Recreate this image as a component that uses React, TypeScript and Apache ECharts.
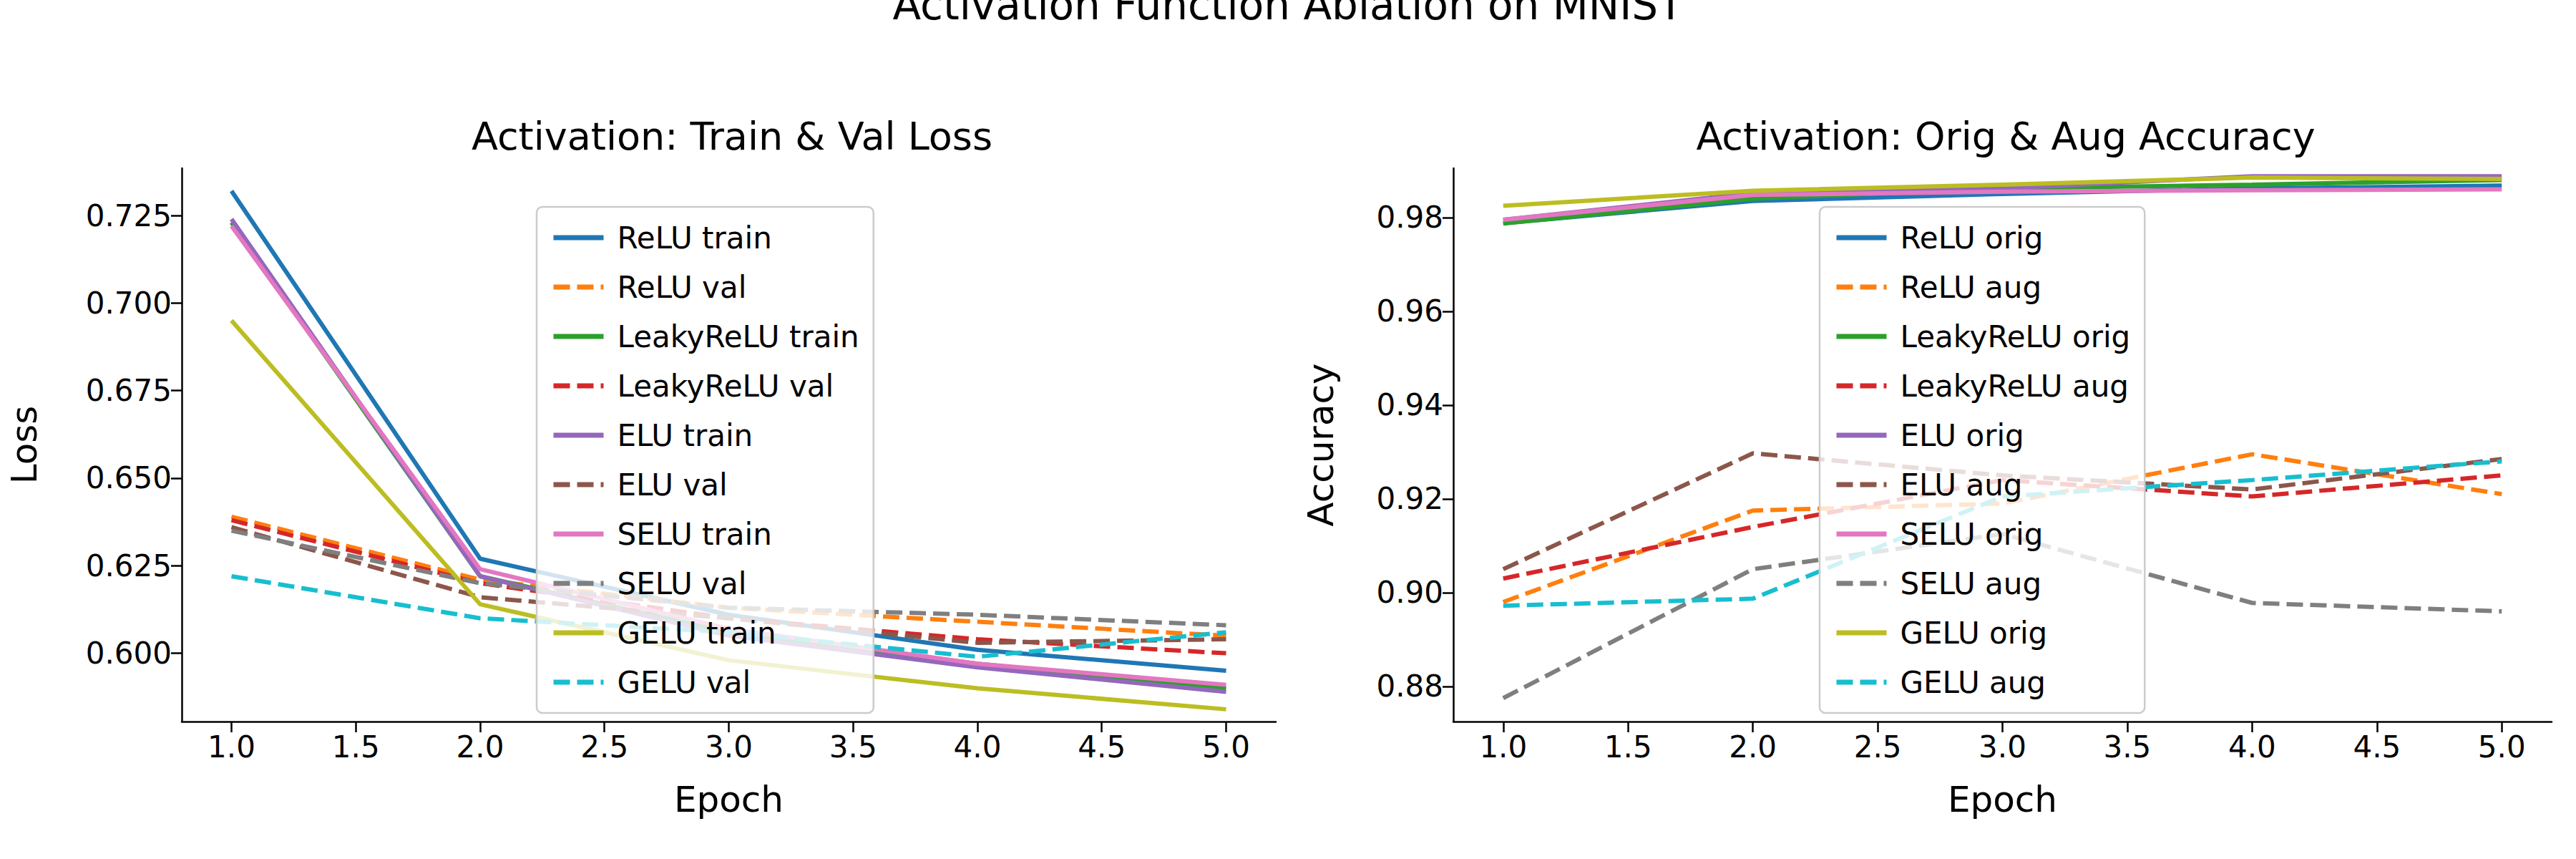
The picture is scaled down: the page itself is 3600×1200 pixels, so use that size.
import { useEffect, useRef } from 'react';
import * as echarts from 'echarts';

const epochs = [1, 2, 3, 4, 5];
const activations = ['ReLU', 'LeakyReLU', 'ELU', 'SELU', 'GELU'];
const colors = ['#1f77b4', '#ff7f0e', '#2ca02c', '#d62728', '#9467bd', '#8c564b', '#e377c2', '#7f7f7f', '#bcbd22', '#17becf'];

const trainLoss = [
  [0.732, 0.627, 0.611, 0.601, 0.595],
  [0.723, 0.622, 0.606, 0.597, 0.590],
  [0.724, 0.622, 0.605, 0.596, 0.589],
  [0.722, 0.624, 0.607, 0.597, 0.591],
  [0.695, 0.614, 0.598, 0.590, 0.584],
];
const valLoss = [
  [0.639, 0.621, 0.613, 0.609, 0.605],
  [0.638, 0.620, 0.610, 0.604, 0.600],
  [0.636, 0.616, 0.610, 0.603, 0.604],
  [0.635, 0.620, 0.613, 0.611, 0.608],
  [0.622, 0.610, 0.606, 0.599, 0.606],
];
const origAcc = [
  [0.9788, 0.9835, 0.9850, 0.9862, 0.9868],
  [0.9787, 0.9840, 0.9862, 0.9870, 0.9880],
  [0.9795, 0.9852, 0.9862, 0.9888, 0.9888],
  [0.9795, 0.9848, 0.9855, 0.9858, 0.9860],
  [0.9825, 0.9857, 0.9870, 0.9885, 0.9882],
];
const augAcc = [
  [0.898, 0.9175, 0.919, 0.9295, 0.921],
  [0.903, 0.914, 0.924, 0.9205, 0.925],
  [0.905, 0.9297, 0.925, 0.922, 0.9285],
  [0.8775, 0.905, 0.9125, 0.8978, 0.896],
  [0.8972, 0.8987, 0.9205, 0.924, 0.928],
];

const xTicks = [1, 1.5, 2, 2.5, 3, 3.5, 4, 4.5, 5];
const lossTicks = [0.6, 0.625, 0.65, 0.675, 0.7, 0.725];
const accTicks = [0.88, 0.9, 0.92, 0.94, 0.96, 0.98];

const FONT = 'DejaVu Sans';

export default function App() {
  const chartRef = useRef<HTMLDivElement>(null);

  useEffect(() => {
    document.body.style.margin = '0';
    if (!chartRef.current) return;
    const chart = echarts.init(chartRef.current, undefined, { renderer: 'svg' });

    const axisCommon = {
      axisLine: { show: true, lineStyle: { color: '#000', width: 2.5 } },
      axisTick: { show: true, length: 15, lineStyle: { color: '#000', width: 2.5 } },
      splitLine: { show: false },
      axisLabel: { color: '#000', fontSize: 42, fontFamily: FONT, margin: 14 },
      nameTextStyle: { color: '#000', fontSize: 50, fontFamily: FONT },
    };

    const xAxis = (gridIndex: number) => ({
      ...axisCommon,
      type: 'value',
      gridIndex,
      min: 0.8,
      max: 5.2,
      name: 'Epoch',
      nameLocation: 'middle',
      nameGap: 84,
      axisTick: { ...axisCommon.axisTick, customValues: xTicks },
      axisLabel: { ...axisCommon.axisLabel, customValues: xTicks, formatter: (v: number) => v.toFixed(1) },
    });

    const yAxis = (gridIndex: number, name: string, min: number, max: number, ticks: number[], digits: number, gap: number) => ({
      ...axisCommon,
      type: 'value',
      gridIndex,
      min,
      max,
      name,
      nameLocation: 'middle',
      nameGap: gap,
      axisTick: { ...axisCommon.axisTick, customValues: ticks },
      axisLabel: { ...axisCommon.axisLabel, customValues: ticks, formatter: (v: number) => v.toFixed(digits) },
    });

    const series: any[] = [];
    const leftNames: string[] = [];
    const rightNames: string[] = [];
    const mk = (name: string, vals: number[], color: string, dashed: boolean, idx: number) => ({
      name,
      type: 'line',
      xAxisIndex: idx,
      yAxisIndex: idx,
      data: epochs.map((e, i) => [e, vals[i]]),
      showSymbol: false,
      symbol: 'none',
      lineStyle: { color, width: 6, type: dashed ? [23, 10] : 'solid' },
      itemStyle: { color },
    });
    activations.forEach((a, i) => {
      leftNames.push(`${a} train`, `${a} val`);
      series.push(mk(`${a} train`, trainLoss[i], colors[2 * i], false, 0));
      series.push(mk(`${a} val`, valLoss[i], colors[2 * i + 1], true, 0));
    });
    activations.forEach((a, i) => {
      rightNames.push(`${a} orig`, `${a} aug`);
      series.push(mk(`${a} orig`, origAcc[i], colors[2 * i], false, 1));
      series.push(mk(`${a} aug`, augAcc[i], colors[2 * i + 1], true, 1));
    });

    const legendCommon = {
      orient: 'vertical',
      top: 289,
      itemWidth: 70,
      itemHeight: 20,
      itemGap: 27,
      padding: [22, 20, 22, 20],
      backgroundColor: 'rgba(255,255,255,0.8)',
      borderColor: '#cccccc',
      borderWidth: 2.5,
      borderRadius: 8,
      selectedMode: false,
      itemStyle: { opacity: 0 },
      lineStyle: { width: 7 },
      textStyle: { color: '#000', fontSize: 42, fontFamily: FONT, padding: [0, 0, 0, 14] },
    };

    chart.setOption({
      animation: false,
      backgroundColor: '#fff',
      textStyle: { fontFamily: FONT },
      graphic: [
        {
          type: 'text',
          x: 1800,
          y: 36,
          style: { text: 'Activation Function Ablation on MNIST', fill: '#000', font: `58px "${FONT}"`, textAlign: 'center', textVerticalAlign: 'bottom' },
        },
      ],
      title: [
        { text: 'Activation: Train & Val Loss', left: 1018, top: 158, textAlign: 'center', textStyle: { fontSize: 54, fontWeight: 'normal', color: '#000', fontFamily: FONT } },
        { text: 'Activation: Orig & Aug Accuracy', left: 2798, top: 158, textAlign: 'center', textStyle: { fontSize: 54, fontWeight: 'normal', color: '#000', fontFamily: FONT } },
      ],
      legend: [
        { ...legendCommon, data: leftNames, left: 750 },
        { ...legendCommon, data: rightNames, left: 2543 },
      ],
      grid: [
        { left: 254, right: 1817, top: 235, bottom: 192 },
        { left: 2031, right: 34, top: 235, bottom: 192 },
      ],
      xAxis: [xAxis(0), xAxis(1)],
      yAxis: [
        yAxis(0, 'Loss', 0.5805, 0.7385, lossTicks, 3, 195),
        yAxis(1, 'Accuracy', 0.8725, 0.9905, accTicks, 2, 160),
      ],
      series,
    });

    return () => chart.dispose();
  }, []);

  return <div ref={chartRef} style={{ width: 3600, height: 1200 }} />;
}
